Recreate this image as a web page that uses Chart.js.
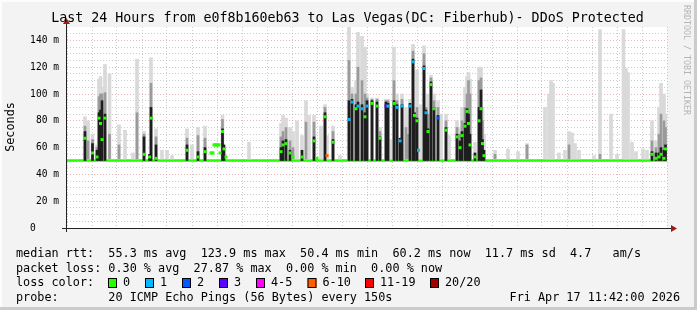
<!DOCTYPE html>
<html>
<head>
<meta charset="utf-8">
<script src="https://cdn.jsdelivr.net/npm/chart.js@4.4.1/dist/chart.umd.min.js"></script>
<style>
  html, body { margin: 0; padding: 0; background: #f3f3f3; }
  canvas { display: block; }
</style>
</head>
<body>
<canvas id="smoke" width="697" height="310"></canvas>
<script>
// time axis is in hours counted from Thu 00:00 (24 = Fri 00:00)
const xStart = 11.77;
const xEnd = 35.77;
const xLabelHours = [12, 16, 20, 24, 28, 32];
const xLabels = ['Thu 12:00', 'Thu 16:00', 'Thu 20:00', 'Fri 00:00', 'Fri 04:00', 'Fri 08:00'];
const yMax = 150;
const baselineMedian = 50.4;

// samples where the median rtt left the baseline (ms)
const spikeTime = [
  12.49, 12.79, 12.97, 13.05, 13.11, 13.17, 13.29, 14.85, 15.07, 15.13,
  15.33, 16.57, 17.01, 17.29, 17.53, 17.57, 17.61, 17.65, 17.69, 17.73,
  17.77, 17.81, 17.85, 17.89, 17.99, 18.05, 18.13, 20.33, 20.41, 20.53,
  20.69, 20.81, 21.17, 21.65, 21.77, 22.09, 22.17, 22.41, 23.05, 23.17,
  23.33, 23.41, 23.57, 23.69, 23.77, 23.97, 24.17, 24.29, 24.53, 24.61,
  24.85, 24.97, 25.09, 25.17, 25.49, 25.61, 25.67, 25.77, 25.83, 26.05,
  26.13, 26.21, 26.33, 26.45, 26.61, 26.93, 27.37, 27.49, 27.57, 27.69,
  27.77, 27.83, 27.89, 28.09, 28.25, 28.33, 28.39, 28.45, 35.17, 35.33,
  35.45, 35.53, 35.65, 35.71
];
const spikeMedian = [
  67, 56, 53, 82, 78, 66, 82, 55, 53, 82,
  52, 58, 53, 57, 56, 56, 56, 62, 62, 62,
  62, 62, 62, 56, 72, 59, 53, 57, 62, 63,
  56, 53, 53, 65, 52, 83, 54, 64, 81, 94,
  89, 91, 89, 83, 91, 93, 91, 67, 91, 91,
  93, 90, 65, 91, 91, 124, 84, 80, 58, 119,
  86, 72, 107, 89, 82, 73, 68, 60, 69, 76,
  87, 78, 62, 53, 80, 89, 63, 54, 55, 52,
  53, 55, 52, 59
];
// lost pings out of 20
const spikeLoss = [
  0, 0, 0, 0, 0, 0, 0, 0, 0, 0,
  0, 0, 0, 0, 0, 0, 0, 0, 0, 0,
  0, 0, 0, 0, 0, 0, 0, 0, 0, 0,
  0, 0, 0, 0, 0, 0, 8, 0, 1, 1,
  0, 1, 1, 0, 1, 0, 0, 0, 3, 1,
  0, 1, 1, 1, 1, 1, 0, 0, 1, 1,
  1, 0, 0, 0, 2, 0, 0, 0, 0, 0,
  0, 0, 0, 0, 0, 0, 0, 0, 0, 0,
  0, 0, 0, 0
];
const spikeDark = [
  72, 63, 58, 86, 88, 95, 85, 68, 55, 90,
  62, 62, 57, 60, null, null, null, null, null, null,
  null, null, null, null, 74, 62, null, 60, 65, 66,
  58, null, 58, 68, null, 86, null, 66, 95, 96,
  92, 94, 92, 86, 95, 95, 94, 68, 94, 93,
  95, 92, 67, 92, 93, 126, 86, 82, null, 121,
  88, 74, 109, 90, 84, 75, 70, 65, 72, 78,
  89, 85, 70, 56, 90, 103, 66, 58, 57, 56,
  56, 60, 58, 62
];
const spikeMid = [
  76, 66, 60, 98, 100, 100, 101, 70, null, 108,
  68, 67, 69, 67, null, null, null, null, null, null,
  null, null, null, null, 81, null, null, 68, 72, 75,
  65, 60, null, 79, null, 90, null, 72, 125, 100,
  100, 120, 110, 100, 97, 96, 96, 72, 95, 95,
  110, 95, null, 96, null, 132, null, 90, null, 130,
  90, 85, 112, 95, 90, 80, 75, 70, 80, 90,
  100, 110, 100, null, 110, 112, 80, null, 65, 60,
  70, 85, 80, 75
];
const spikeLight = [
  83, 70, 62, 111, 113, 105, 122, 72, null, 127,
  74, 74, 75, 76, null, null, null, null, null, null,
  null, null, null, null, 84, null, null, 78, 84, 82,
  75, 72, 69, 84, null, 92, 69, 76, 150, 105,
  110, 146, 143, 135, 100, 97, 97, 75, 96, 96,
  135, 100, null, 100, 96, 137, null, 118, null, 136,
  null, 100, 114, 100, 95, 85, 80, 75, 90, 105,
  113, 116, 111, 64, 120, 120, 90, 70, 80, 65,
  90, 108, 100, 85
];

// smoke only, median stayed on the baseline
const smokeTime = [
  12.61, 13.47, 13.85, 14.09, 14.41, 14.57, 15.57, 15.77, 15.97, 16.77,
  19.05, 20.97, 21.33, 21.45, 21.93, 22.69, 24.73, 25.33, 25.41, 25.93,
  26.73, 27.05, 28.89, 29.41, 29.81, 30.17, 30.89, 31.05, 31.13, 31.21,
  31.45, 31.69, 31.85, 31.97, 32.09, 32.25, 32.85, 33.09, 33.53, 33.77,
  34.03, 34.13, 34.21, 34.37, 34.53, 34.81, 34.97
];
const smokeMid = [
  65, 70, 62, null, null, 86, null, null, null, null,
  null, null, 79, null, null, null, null, 75, 70, null,
  null, null, 55, null, null, 62, null, null, null, null,
  null, null, 62, null, null, null, null, 55, null, null,
  null, null, null, null, null, null, null
];
const smokeLight = [
  80, 115, 77, 73, 56, 126, 58, 58, 54, 62,
  64, 80, 95, 84, 76, 54, 66, 90, 85, 92,
  85, 69, 58, 59, 57, 63, 90, 100, 110, 108,
  56, 58, 72, 71, 63, 58, 54, 148, 85, 55,
  148, 119, 116, 64, 57, 59, 58
];

const lossLabels = ['0', '1', '2', '3', '4-5', '6-10', '11-19', '20/20'];
const lossUpTo = [0, 1, 2, 3, 5, 10, 19, 20];
const lossColors = ['#26ff00', '#00b8ff', '#0059ff', '#5e00ff', '#ff00ff', '#ff5e00', '#ff0000', '#a00000'];

const legendLines = [
  'median rtt:  55.3 ms avg  123.9 ms max  50.4 ms min  60.2 ms now  11.7 ms sd  4.7   am/s',
  'packet loss: 0.30 % avg  27.87 % max  0.00 % min  0.00 % now',
  'loss color:',
  'probe:       20 ICMP Echo Pings (56 Bytes) every 150s'
];
const stampText = 'Fri Apr 17 11:42:00 2026';
const titleText = 'Last 24 Hours from e0f8b160eb63 to Las Vegas(DC: Fiberhub)- DDoS Protected';

function lossColor(n) {
  for (let i = 0; i < lossUpTo.length; i++) {
    if (n <= lossUpTo[i]) return lossColors[i];
  }
  return lossColors[lossColors.length - 1];
}

function floating(times, tops, base) {
  return times
    .map((t, i) => tops[i] == null ? null : { x: t, y: [base, tops[i]] })
    .filter(Boolean);
}

const lightData = floating(spikeTime, spikeLight, 51.5).concat(floating(smokeTime, smokeLight, 51.5)).sort((a, b) => a.x - b.x);
const midData = floating(spikeTime, spikeMid, 51.5).concat(floating(smokeTime, smokeMid, 51.5)).sort((a, b) => a.x - b.x);
const darkData = floating(spikeTime, spikeDark, baselineMedian);
const medianData = spikeTime.map((t, i) => ({ x: t, y: spikeMedian[i], loss: spikeLoss[i] }));

const MONO = '"DejaVu Sans Mono", monospace';
Chart.defaults.font.family = MONO;

const rrdFrame = {
  id: 'rrdFrame',
  beforeDraw(chart) {
    const { ctx, chartArea: a, width, height } = chart;
    ctx.save();
    ctx.fillStyle = '#f3f3f3';
    ctx.fillRect(0, 0, width, height);
    ctx.fillStyle = '#cbcbcb';
    ctx.fillRect(width - 3, 0, 3, height);
    ctx.fillRect(0, height - 3, width, 3);
    ctx.fillStyle = '#fdfdfd';
    ctx.fillRect(0, 0, width - 3, 2);
    ctx.fillRect(0, 0, 2, height - 3);
    ctx.fillStyle = '#ffffff';
    ctx.fillRect(a.left, a.top, a.right - a.left, a.bottom - a.top);
    ctx.restore();
  },
  afterDraw(chart) {
    const { ctx, chartArea: a } = chart;
    ctx.save();

    // axes with arrows
    ctx.strokeStyle = '#222';
    ctx.lineWidth = 1;
    ctx.beginPath();
    ctx.moveTo(a.left - 5, a.bottom + 0.5);
    ctx.lineTo(a.right + 7, a.bottom + 0.5);
    ctx.moveTo(a.left - 0.5, a.bottom + 4);
    ctx.lineTo(a.left - 0.5, a.top - 6);
    ctx.stroke();
    ctx.fillStyle = '#9b1b1b';
    ctx.beginPath();
    ctx.moveTo(a.right + 4, a.bottom - 3);
    ctx.lineTo(a.right + 10, a.bottom + 0.5);
    ctx.lineTo(a.right + 4, a.bottom + 4);
    ctx.closePath();
    ctx.fill();
    ctx.beginPath();
    ctx.moveTo(a.left - 4, a.top - 3);
    ctx.lineTo(a.left - 0.5, a.top - 9);
    ctx.lineTo(a.left + 3, a.top - 3);
    ctx.closePath();
    ctx.fill();

    // title
    ctx.fillStyle = '#000';
    ctx.textBaseline = 'middle';
    ctx.textAlign = 'center';
    ctx.font = '13.3px ' + MONO;
    ctx.fillText(titleText, 347.5, 18.5);

    // vertical axis title
    ctx.save();
    ctx.translate(11, 127);
    ctx.rotate(-Math.PI / 2);
    ctx.font = '11.8px ' + MONO;
    ctx.fillText('Seconds', 0, 0);
    ctx.restore();

    // watermark
    ctx.save();
    ctx.translate(686, 5);
    ctx.rotate(Math.PI / 2);
    ctx.textAlign = 'left';
    ctx.fillStyle = '#b4b4b4';
    ctx.font = '8.3px ' + MONO;
    ctx.fillText('RRDTOOL / TOBI OETIKER', 0, 0);
    ctx.restore();

    // legend block
    ctx.textAlign = 'left';
    ctx.font = '11.8px ' + MONO;
    const rows = [254, 268.5, 283, 297.5];
    legendLines.forEach((line, i) => ctx.fillText(line, 16, rows[i]));
    ctx.textAlign = 'right';
    ctx.fillText(stampText, 680, rows[3]);

    const boxX = [108, 145, 182, 219, 256, 307.5, 365, 430];
    ctx.textAlign = 'left';
    lossLabels.forEach((lab, i) => {
      ctx.fillStyle = lossColors[i];
      ctx.fillRect(boxX[i], 278.5, 9, 9);
      ctx.strokeStyle = '#000';
      ctx.strokeRect(boxX[i] + 0.5, 278.5, 8, 9);
      ctx.fillStyle = '#000';
      ctx.fillText(lab, boxX[i] + 15, rows[2]);
    });
    ctx.restore();
  }
};

const majorGrid = 'rgba(220, 120, 120, 0.55)';
const minorGrid = 'rgba(170, 170, 170, 0.6)';

new Chart(document.getElementById('smoke'), {
  type: 'bar',
  data: {
    datasets: [
      {
        type: 'line',
        data: [{ x: xStart, y: baselineMedian }, { x: xEnd, y: baselineMedian }],
        borderColor: lossColors[0],
        borderWidth: 2.5,
        pointRadius: 0,
        order: 4
      },
      {
        data: lightData,
        backgroundColor: '#d9d9d9',
        barThickness: 3,
        grouped: false,
        order: 3
      },
      {
        data: midData,
        backgroundColor: '#9a9a9a',
        barThickness: 2,
        grouped: false,
        order: 2
      },
      {
        data: darkData,
        backgroundColor: '#1e1e1e',
        barThickness: 2,
        grouped: false,
        order: 1
      },
      {
        type: 'line',
        data: medianData,
        showLine: false,
        pointStyle: 'rect',
        pointRadius: 2.1,
        pointBorderWidth: 0,
        pointBackgroundColor: c => lossColor(c.raw ? c.raw.loss : 0),
        order: 0
      }
    ]
  },
  options: {
    responsive: false,
    animation: false,
    events: [],
    layout: { padding: { top: 27, right: 30, left: 0, bottom: 0 } },
    plugins: { legend: { display: false }, tooltip: { enabled: false } },
    scales: {
      x: {
        type: 'linear',
        min: xStart,
        max: xEnd,
        offset: false,
        afterFit: s => { s.height = 82; },
        ticks: {
          stepSize: 1,
          includeBounds: false,
          autoSkip: false,
          maxRotation: 0,
          padding: 4,
          color: '#000',
          font: { size: 9.6 },
          callback: v => {
            const k = xLabelHours.indexOf(v);
            return k >= 0 ? xLabels[k] : '';
          }
        },
        grid: {
          offset: false,
          drawTicks: false,
          color: c => (c.tick && c.tick.value % 2 === 0) ? majorGrid : minorGrid
        },
        border: { display: false, dash: [1, 2] }
      },
      y: {
        min: 0,
        max: yMax,
        afterFit: s => { s.width = 67; },
        ticks: {
          stepSize: 5,
          autoSkip: false,
          padding: 8,
          color: '#000',
          font: { size: 9.6 },
          callback: v => (v % 20 === 0 && v < yMax) ? (v === 0 ? '0    ' : v + ' m') : ''
        },
        grid: {
          drawTicks: false,
          color: c => {
            if (!c.tick || c.tick.value === yMax || c.tick.value === 0) return 'rgba(0,0,0,0)';
            return c.tick.value % 20 === 0 ? majorGrid : minorGrid;
          }
        },
        border: { display: false, dash: [1, 2] }
      }
    }
  },
  plugins: [rrdFrame]
});
</script>
</body>
</html>
